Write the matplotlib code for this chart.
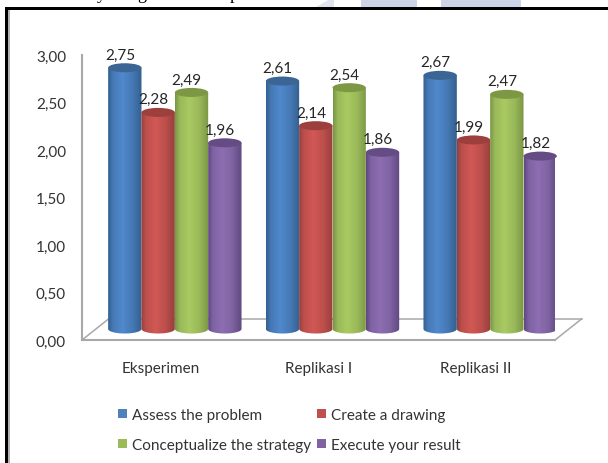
import numpy as np
import matplotlib
matplotlib.use('Agg')
import matplotlib.pyplot as plt
from matplotlib.colors import LinearSegmentedColormap
from matplotlib.lines import Line2D
from matplotlib.patches import Ellipse, PathPatch, Patch, Polygon, Rectangle
from matplotlib.path import Path
from matplotlib.transforms import Affine2D, IdentityTransform

plt.rcParams['font.family'] = ['Lato', 'DejaVu Sans']

groups = ['Eksperimen', 'Replikasi I', 'Replikasi II']
series = ['Assess the problem', 'Create a drawing',
          'Conceptualize the strategy', 'Execute your result']
assess = [2.75, 2.61, 2.67]
drawing = [2.28, 2.14, 1.99]
strategy = [2.49, 2.54, 2.47]
execute = [1.96, 1.86, 1.82]
y_ticks = [0, 0.5, 1, 1.5, 2, 2.5, 3]

# dark edge, body, highlight, top cap for each series
colors = [('#33608f', '#4679b5', '#5089cd', '#3a6594'),
          ('#96403d', '#bd4f4c', '#d15855', '#9c3f3d'),
          ('#7a9645', '#9aba5a', '#a9c962', '#7d9845'),
          ('#5f4880', '#7f63a2', '#8d6eb2', '#654c85')]
legend_colors = ['#4f81bd', '#c0504d', '#9bbb59', '#8064a2']

W, H = 608, 464
BAR_W = 0.2115
CAP_H = 0.095
BASE_H = 0.095

fig = plt.figure(figsize=(W / 100, H / 100), dpi=100, facecolor='white')
ax = fig.add_axes([82 / W, 1 - 341 / H, 473 / W, 285 / H])
ax.set_facecolor('none')
ax.set_xlim(0, 3)
ax.set_ylim(0, 3)


def fig_rect(x0, y0, x1, y1, color, **kw):
    fig.add_artist(Rectangle((x0 / W, 1 - y1 / H), (x1 - x0) / W, (y1 - y0) / H,
                             transform=fig.transFigure, facecolor=color,
                             edgecolor='none', **kw))


# page furniture around the chart box
fig_rect(361, 0, 417, 8, '#ced4e7')
fig_rect(441, 0, 521, 8, '#ced4e7')
fig.add_artist(Polygon([(330 / W, 1), (334 / W, 1), (334 / W, 1 - 8 / H), (316 / W, 1 - 8 / H)],
                       transform=fig.transFigure, facecolor='#e2e5f0', edgecolor='none'))
fig_rect(5, 8, W, 11, 'black')
fig_rect(5, 8, 8, H, 'black')
fig_rect(8, 11, 10, H, '#b4b4b4')
for gx, ch in zip([101, 142, 234], 'ygp'):
    fig.text(gx / W, 1 + 1 / H, ch, family='Liberation Serif', fontsize=13,
             ha='center', va='baseline', color='black')

# bars stand a little behind the axis plane, floor edge further back
bar_tr = ax.transData + Affine2D().translate(14, 11)
back_tr = ax.transData + Affine2D().translate(26.5, 21)

axis_gray = '#a8a8a8'
ax.plot([0, 3], [0, 0], color=axis_gray, lw=1.1, transform=back_tr, clip_on=False, zorder=1)
for x in [0, 3]:
    x0, y0 = ax.transData.transform((x, 0))
    x1, y1 = back_tr.transform((x, 0))
    ax.add_line(Line2D([x0, x1], [y0, y1], color=axis_gray, lw=1.1,
                       transform=IdentityTransform(), clip_on=False, zorder=1))

values = [assess, drawing, strategy, execute]
theta = np.linspace(np.pi, 2 * np.pi, 40)
z = 2
for g in range(len(groups)):
    for s, vals in enumerate(values):
        v = vals[g]
        cx = g + 0.5 + (s - 1.5) * BAR_W
        left, right = cx - BAR_W / 2, cx + BAR_W / 2
        edge, body, light, cap = colors[s]
        cmap = LinearSegmentedColormap.from_list(
            'c%d' % s, [(0, edge), (0.14, body), (0.42, light), (0.72, body), (1, edge)])

        # body outline: straight sides with a rounded foot
        foot = np.column_stack([cx + BAR_W / 2 * np.cos(theta), BASE_H / 2 * np.sin(theta)])
        verts = np.vstack([[[left, v]], foot, [[right, v]], [[left, v]]])
        outline = PathPatch(Path(verts), transform=bar_tr, facecolor='none', edgecolor='none')
        im = ax.imshow(np.linspace(0, 1, 64).reshape(1, -1), cmap=cmap, aspect='auto',
                       extent=[left, right, -0.1, v + 0.01], transform=bar_tr,
                       interpolation='bilinear', zorder=z, clip_on=True)
        im.set_clip_path(outline)
        ax.add_patch(Ellipse((cx, v), BAR_W, CAP_H, transform=bar_tr, facecolor=cap,
                             edgecolor='none', clip_on=False, zorder=z + 0.5))
        ax.annotate(('%.2f' % v).replace('.', ','), xy=(cx, v), xycoords=bar_tr,
                    xytext=(-3.4, 9.4), textcoords='offset points', ha='center', va='center',
                    fontsize=11, color='#262626', zorder=50, annotation_clip=False)
        z += 1

ax.set_xlim(0, 3)
ax.set_ylim(0, 3)
ax.set_xticks([0.5, 1.5, 2.5], groups)
ax.set_yticks(y_ticks, [('%.2f' % t).replace('.', ',') for t in y_ticks])
ax.tick_params(axis='x', length=0, pad=15, labelsize=11, labelcolor='#333333')
ax.tick_params(axis='y', length=0, pad=11.5, labelsize=11, labelcolor='#333333')
for side in ['top', 'right']:
    ax.spines[side].set_visible(False)
for side in ['left', 'bottom']:
    ax.spines[side].set_color(axis_gray)
    ax.spines[side].set_linewidth(1.5)
    ax.spines[side].set_zorder(1.5)

handles = [Patch(facecolor=c, edgecolor='none') for c in legend_colors]
order = [0, 2, 1, 3]
fig.legend([handles[i] for i in order], [series[i] for i in order], ncol=2, frameon=False,
           loc='upper left', bbox_to_anchor=(104 / W, 1 - 395 / H), fontsize=11,
           labelcolor='#333333', handlelength=0.6, handleheight=0.6, handletextpad=0.33,
           labelspacing=1.05, columnspacing=0.4, borderpad=0.4)

fig.savefig('out.png', dpi=100, facecolor='white')
